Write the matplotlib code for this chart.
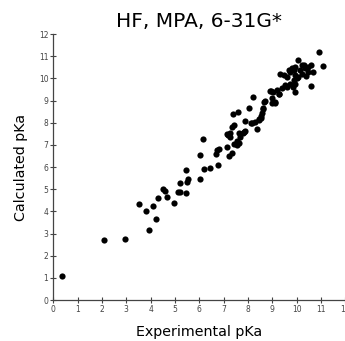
import matplotlib
matplotlib.use("Agg")
import matplotlib.pyplot as plt

title = "HF, MPA, 6-31G*"
x_label = "Experimental pKa"
y_label = "Calculated pKa"
ticks = list(range(0, 13))

experimental = [
    0.37, 2.09, 2.95, 3.54, 3.83, 3.95, 4.08, 4.21, 4.30, 4.50, 4.61, 4.69, 4.95,
    5.12, 5.21, 5.20, 5.47, 5.50, 5.52, 5.44, 6.05, 6.05, 6.19, 6.44, 6.16, 6.78,
    6.67, 6.72, 6.83, 7.22, 7.33, 7.16, 7.42, 7.55, 7.14, 7.28, 7.35, 7.41, 7.38,
    7.59, 7.68, 7.79, 7.89, 7.89, 8.04, 8.18, 8.37, 8.31, 8.45, 8.53, 8.59, 8.64,
    8.70, 8.19, 8.92, 8.96, 8.67, 8.99, 9.12, 8.99, 9.26, 9.05, 9.19, 9.40, 9.26,
    9.53, 9.33, 9.47, 9.74, 9.88, 9.60, 9.88, 9.74, 10.08, 10.22, 10.49, 10.29,
    10.35, 10.59, 10.08, 10.91, 11.09, 10.59, 9.95, 9.67, 9.81, 9.95, 10.22, 10.49,
    10.66, 10.02, 9.92, 9.60, 9.95, 7.55, 7.62, 7.20, 7.27, 7.82, 7.62, 8.14, 8.55,
    8.44, 8.64, 9.12, 10.15, 10.40, 9.85,
]
calculated = [
    1.07, 2.72, 2.74, 4.32, 4.01, 3.16, 4.25, 3.68, 4.62, 4.99, 4.92, 4.63, 4.38,
    4.88, 4.86, 5.28, 4.81, 5.34, 5.48, 5.85, 5.47, 6.55, 5.91, 5.95, 7.28, 6.09,
    6.60, 6.77, 6.83, 6.51, 6.62, 6.92, 7.04, 7.16, 7.49, 7.55, 7.82, 7.91, 8.39,
    8.48, 7.34, 7.56, 7.64, 8.09, 8.67, 7.97, 7.70, 8.02, 8.15, 8.20, 8.42, 8.62,
    8.96, 9.18, 9.42, 9.43, 8.94, 9.10, 8.94, 8.87, 9.28, 9.40, 9.47, 9.55, 9.32,
    9.70, 10.22, 10.15, 10.30, 10.37, 10.07, 9.92, 9.77, 10.07, 10.22, 10.30, 10.60,
    10.45, 10.60, 10.81, 11.20, 10.55, 9.67, 9.38, 10.37, 10.45, 10.52, 10.60, 10.52,
    10.30, 10.00, 10.15, 9.62, 9.77, 6.99, 7.07, 7.44, 7.37, 7.59, 7.52, 8.00, 8.30,
    8.12, 8.65, 8.87, 10.40, 10.10, 9.60,
]

fig = plt.figure(figsize=(3.45, 3.41), dpi=100)
ax = fig.add_axes([0.1545, 0.120, 0.846, 0.780])
ax.scatter(experimental, calculated, s=20, color="black", linewidths=0, zorder=3, clip_on=False)
ax.set_xlim(0, 12)
ax.set_ylim(0, 12)
ax.set_xticks(ticks)
ax.set_yticks(ticks)
for side in ("top", "right"):
    ax.spines[side].set_visible(False)
for side in ("left", "bottom"):
    ax.spines[side].set_color("#444444")
    ax.spines[side].set_linewidth(0.9)
ax.tick_params(direction="inout", length=4, width=0.8, color="#444444",
               labelsize=5.5, labelcolor="#444444", pad=1.5)
ax.set_title(title, fontsize=14.5, pad=5)
ax.set_xlabel(x_label, fontsize=10.3, labelpad=8)
ax.set_ylabel(y_label, fontsize=10.3, labelpad=8)
fig.savefig("out.png", dpi=100)
